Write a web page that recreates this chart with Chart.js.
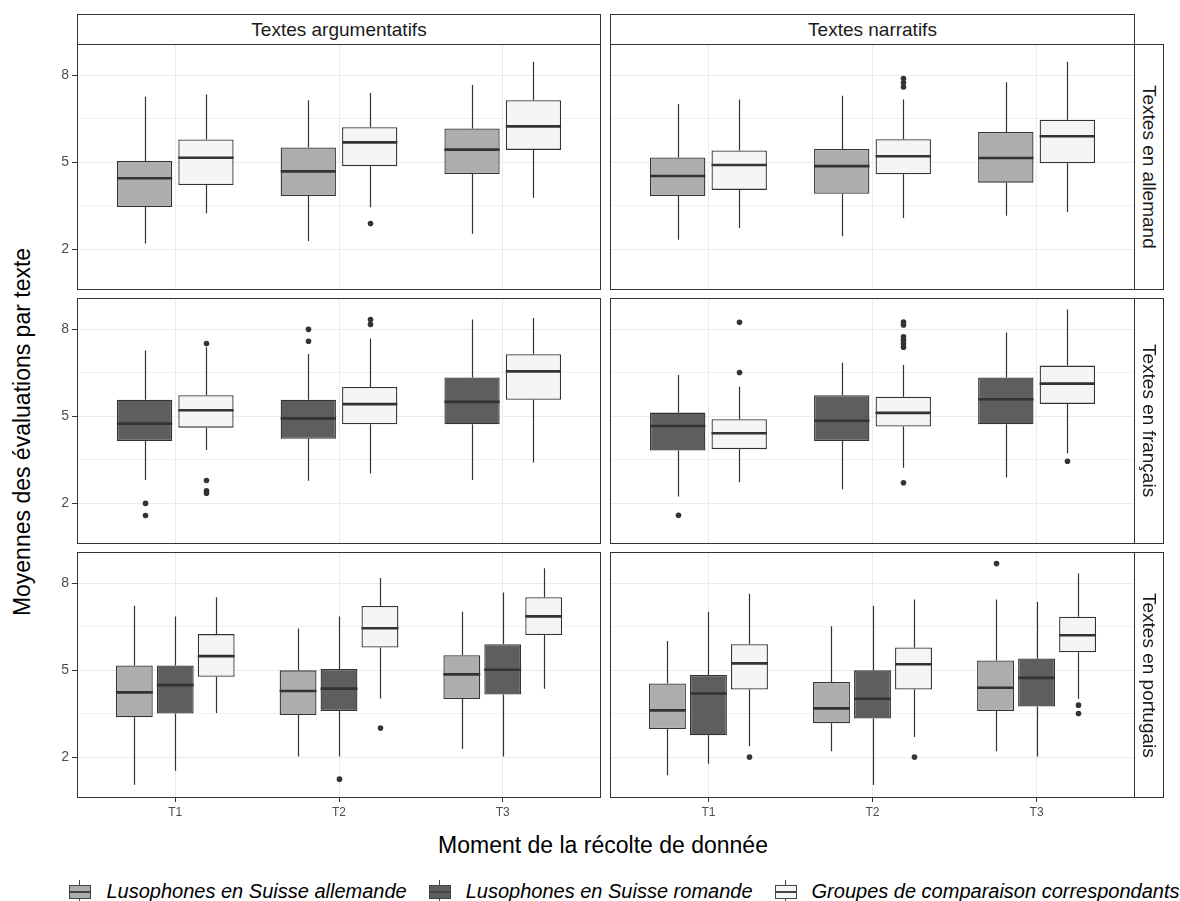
<!DOCTYPE html>
<html lang="fr">
<head>
<meta charset="UTF-8">
<title>Moyennes des évaluations par texte</title>
<script src="https://cdn.jsdelivr.net/npm/chart.js@4.4.1/dist/chart.umd.min.js"></script>
<style>
  body { margin: 0; background: #fff; font-family: "Liberation Sans", Arial, sans-serif; }
  #fig { position: relative; width: 1180px; height: 901px; overflow: hidden; background: #fff; }
  #fig canvas { position: absolute; }
  .strip-top { position: absolute; top: 14px; height: 31px; box-sizing: border-box; border: 1px solid #333;
    background: #fff; color: #1a1a1a; font-size: 19px; line-height: 29px; text-align: center; }
  .strip-right { position: absolute; left: 1134px; width: 30px; height: 246px; box-sizing: border-box;
    border: 1px solid #333; background: #fff; color: #1a1a1a; font-size: 19px; line-height: 28px;
    writing-mode: vertical-rl; text-align: center; }
  .title { position: absolute; font-size: 23px; color: #000; white-space: nowrap; }
  #legend { position: absolute; left: 0; width: 1249px; top: 880px; height: 22px; display: flex;
    justify-content: center; align-items: center; }
  .item { display: flex; align-items: center; margin-right: 22px; }
  .item:last-child { margin-right: 0; }
  .key { position: relative; width: 22px; height: 22px; margin-right: 15px; }
  .key .wh { position: absolute; left: 10px; top: 0; width: 1px; height: 22px; background: #444; }
  .key .bx { position: absolute; left: 0; top: 5px; width: 22px; height: 14px; box-sizing: border-box; border: 1px solid #444; }
  .key .md { position: absolute; left: 0; top: 11px; width: 22px; height: 2px; background: #444; }
  .lab { font-size: 20px; font-style: italic; color: #000; white-space: nowrap; }
</style>
</head>
<body>
<div id="fig">
  <div class="title" style="left:22px;top:432px;transform:translate(-50%,-50%) rotate(-90deg);">Moyennes des évaluations par texte</div>
  <div class="title" style="left:603px;top:845px;transform:translate(-50%,-50%);">Moment de la récolte de donnée</div>
  <div id="legend"></div>
</div>
<script>
const moments = ['T1', 'T2', 'T3'];
const yLabels = [2, 5, 8];
const genres = ['Textes argumentatifs', 'Textes narratifs'];
const langues = ['Textes en allemand', 'Textes en français', 'Textes en portugais'];
const groupes = ['Lusophones en Suisse allemande', 'Lusophones en Suisse romande', 'Groupes de comparaison correspondants'];
const couleurs = ['#adadad', '#5e5e5e', '#f5f5f5'];

// [moustache basse, Q1, médiane, Q3, moustache haute] pour T1, T2, T3
const argAllLusoAll = [[2.20, 3.46, 4.45, 5.05, 7.26], [2.29, 3.84, 4.69, 5.51, 7.14], [2.54, 4.60, 5.44, 6.17, 7.67]];
const argAllComp    = [[3.25, 4.22, 5.16, 5.79, 7.34], [3.45, 4.87, 5.69, 6.21, 7.39], [3.78, 5.43, 6.24, 7.14, 8.47]];
const narAllLusoAll = [[2.33, 3.84, 4.53, 5.17, 7.01], [2.45, 3.92, 4.87, 5.46, 7.30], [3.16, 4.30, 5.15, 6.05, 7.76]];
const narAllComp    = [[2.74, 4.05, 4.91, 5.41, 7.17], [3.08, 4.59, 5.21, 5.80, 7.17], [3.29, 4.97, 5.90, 6.47, 8.47]];
const argFrLusoRom  = [[2.81, 4.15, 4.75, 5.57, 7.27], [2.78, 4.23, 4.93, 5.57, 7.15], [2.81, 4.73, 5.50, 6.34, 8.34]];
const argFrComp     = [[3.84, 4.61, 5.21, 5.73, 7.38], [3.03, 4.73, 5.42, 6.01, 7.68], [3.41, 5.57, 6.55, 7.14, 8.39]];
const narFrLusoRom  = [[2.24, 3.82, 4.67, 5.13, 6.43], [2.49, 4.15, 4.85, 5.73, 6.85], [2.89, 4.73, 5.59, 6.34, 7.89]];
const narFrComp     = [[2.73, 3.87, 4.42, 4.90, 6.02], [3.23, 4.65, 5.12, 5.68, 6.77], [3.73, 5.43, 6.13, 6.75, 8.68]];
const argPtLusoAll  = [[1.06, 3.38, 4.24, 5.17, 7.23], [2.03, 3.46, 4.29, 5.00, 6.44], [2.29, 4.01, 4.86, 5.52, 7.02]];
const argPtLusoRom  = [[1.54, 3.51, 4.49, 5.17, 6.86], [2.03, 3.60, 4.37, 5.05, 6.86], [2.03, 4.17, 5.02, 5.90, 7.68]];
const argPtComp     = [[3.53, 4.78, 5.49, 6.25, 7.52], [4.03, 5.79, 6.45, 7.22, 8.18], [4.37, 6.22, 6.86, 7.52, 8.52]];
const narPtLusoAll  = [[1.38, 2.98, 3.62, 4.55, 6.01], [2.21, 3.18, 3.69, 4.60, 6.52], [2.21, 3.60, 4.40, 5.34, 7.44]];
const narPtLusoRom  = [[1.78, 2.76, 4.20, 4.84, 7.01], [1.05, 3.34, 4.02, 5.00, 7.23], [2.03, 3.75, 4.74, 5.41, 7.36]];
const narPtComp     = [[2.38, 4.34, 5.24, 5.90, 7.64], [2.70, 4.34, 5.21, 5.79, 7.44], [4.02, 5.62, 6.21, 6.85, 8.34]];

// valeurs extrêmes pour T1, T2, T3
const aucun           = [[], [], []];
const argAllCompOut   = [[], [2.89], []];
const narAllCompOut   = [[], [7.60, 7.74, 7.89], []];
const argFrLusoRomOut = [[2.00, 1.58], [8.00, 7.59], []];
const argFrCompOut    = [[7.51, 2.79, 2.43, 2.35], [8.34, 8.17], []];
const narFrLusoRomOut = [[1.59], [], []];
const narFrCompOut    = [[8.24, 6.51], [8.25, 8.15, 7.74, 7.62, 7.50, 7.38, 2.71], [3.45]];
const argPtLusoRomOut = [[], [1.25], []];
const argPtCompOut    = [[], [3.01], []];
const narPtLusoAllOut = [[], [], [8.68]];
const narPtCompOut    = [[2.01], [2.01], [3.80, 3.51]];

// [groupe, stats, extrêmes] par panneau
const panels = [
  { row: 0, col: 0, series: [[0, argAllLusoAll, aucun], [2, argAllComp, argAllCompOut]] },
  { row: 0, col: 1, series: [[0, narAllLusoAll, aucun], [2, narAllComp, narAllCompOut]] },
  { row: 1, col: 0, series: [[1, argFrLusoRom, argFrLusoRomOut], [2, argFrComp, argFrCompOut]] },
  { row: 1, col: 1, series: [[1, narFrLusoRom, narFrLusoRomOut], [2, narFrComp, narFrCompOut]] },
  { row: 2, col: 0, series: [[0, argPtLusoAll, aucun], [1, argPtLusoRom, argPtLusoRomOut], [2, argPtComp, argPtCompOut]] },
  { row: 2, col: 1, series: [[0, narPtLusoAll, narPtLusoAllOut], [1, narPtLusoRom, aucun], [2, narPtComp, narPtCompOut]] }
];

const FONT = '"Liberation Sans", Arial, sans-serif';
const INK = '#333333';
const rowTops = [44, 298, 552];
const colLefts = [77, 610];
const colWidths = [524, 525];
const PANEL_H = 246;
const PAD = 15;
const yGrid = yLabels.concat(yLabels.slice(1).map((v, i) => (v + yLabels[i]) / 2)).sort((a, b) => a - b);

const fig = document.getElementById('fig');

// moustaches, médianes, points extrêmes et cadre du panneau
const boxPlugin = {
  id: 'boxExtras',
  beforeDatasetsDraw(chart) {
    const ctx = chart.ctx, y = chart.scales.y;
    ctx.save();
    ctx.strokeStyle = INK;
    ctx.lineWidth = 1.2;
    chart.data.datasets.forEach((ds, i) => {
      chart.getDatasetMeta(i).data.forEach((el, j) => {
        const s = ds.stats[j];
        const x = Math.round(el.x) + 0.5;
        ctx.beginPath();
        ctx.moveTo(x, y.getPixelForValue(s[0]));
        ctx.lineTo(x, y.getPixelForValue(s[1]));
        ctx.moveTo(x, y.getPixelForValue(s[3]));
        ctx.lineTo(x, y.getPixelForValue(s[4]));
        ctx.stroke();
      });
    });
    ctx.restore();
  },
  afterDatasetsDraw(chart) {
    const ctx = chart.ctx, y = chart.scales.y;
    ctx.save();
    chart.data.datasets.forEach((ds, i) => {
      chart.getDatasetMeta(i).data.forEach((el, j) => {
        const s = ds.stats[j];
        const ym = y.getPixelForValue(s[2]);
        ctx.strokeStyle = INK;
        ctx.lineWidth = 2.6;
        ctx.beginPath();
        ctx.moveTo(el.x - el.width / 2, ym);
        ctx.lineTo(el.x + el.width / 2, ym);
        ctx.stroke();
        ctx.fillStyle = INK;
        ds.outliers[j].forEach(v => {
          ctx.beginPath();
          ctx.arc(Math.round(el.x) + 0.5, y.getPixelForValue(v), 2.8, 0, Math.PI * 2);
          ctx.fill();
        });
      });
    });
    ctx.restore();
  },
  afterDraw(chart) {
    const a = chart.chartArea, ctx = chart.ctx;
    ctx.save();
    ctx.strokeStyle = INK;
    ctx.lineWidth = 1;
    ctx.strokeRect(a.left + 0.5, a.top + 0.5, a.right - a.left - 1, a.bottom - a.top - 1);
    ctx.restore();
  }
};

function makePanel(p) {
  const isLeft = p.col === 0;
  const isBottom = p.row === 2;
  const axisW = isLeft ? colLefts[0] : 0;
  const canvas = document.createElement('canvas');
  canvas.width = colWidths[p.col] + axisW;
  canvas.height = PAD + PANEL_H + (isBottom ? 30 : PAD);
  canvas.style.left = (colLefts[p.col] - axisW) + 'px';
  canvas.style.top = (rowTops[p.row] - PAD) + 'px';
  fig.appendChild(canvas);

  new Chart(canvas, {
    type: 'bar',
    data: {
      datasets: p.series.map(([g, stats, out]) => ({
        label: groupes[g],
        data: stats.map((s, i) => ({ x: i + 1, y: [s[1], s[3]] })),
        stats: stats,
        outliers: out,
        backgroundColor: couleurs[g],
        borderColor: INK,
        borderWidth: 1.3,
        borderSkipped: false,
        categoryPercentage: 0.75,
        barPercentage: 0.9
      }))
    },
    options: {
      responsive: false,
      animation: false,
      devicePixelRatio: 1,
      layout: { padding: { top: PAD, bottom: isBottom ? 0 : PAD, left: 0, right: 0 } },
      plugins: { legend: { display: false }, tooltip: { enabled: false } },
      scales: {
        x: {
          type: 'linear', min: 0.4, max: 3.6, offset: false,
          afterBuildTicks: s => { s.ticks = moments.map((m, i) => ({ value: i + 1 })); },
          afterFit: s => { s.height = isBottom ? 30 : 0; },
          border: { display: false },
          grid: { offset: false, color: '#ebebeb', lineWidth: 1, drawTicks: isBottom, tickLength: 4, tickColor: INK },
          ticks: {
            display: isBottom, autoSkip: false, maxRotation: 0, padding: 3,
            color: '#4d4d4d', font: { family: FONT, size: 12 },
            callback: v => moments[v - 1]
          }
        },
        y: {
          min: 0.6, max: 9.08,
          afterBuildTicks: s => { s.ticks = yGrid.map(v => ({ value: v })); },
          afterFit: s => { s.width = axisW; },
          border: { display: false },
          grid: {
            color: c => yLabels.includes(c.tick.value) ? '#ebebeb' : '#f1f1f1',
            lineWidth: 1, drawTicks: isLeft, tickLength: 5,
            tickColor: c => yLabels.includes(c.tick.value) ? INK : 'rgba(0,0,0,0)'
          },
          ticks: {
            display: isLeft, autoSkip: false, padding: 3,
            color: '#4d4d4d', font: { family: FONT, size: 14 },
            callback: v => yLabels.includes(v) ? String(v) : ''
          }
        }
      }
    },
    plugins: [boxPlugin]
  });
}

panels.forEach(makePanel);

// bandeaux des facettes
genres.forEach((t, c) => {
  const d = document.createElement('div');
  d.className = 'strip-top';
  d.style.left = colLefts[c] + 'px';
  d.style.width = colWidths[c] + 'px';
  d.textContent = t;
  fig.appendChild(d);
});
langues.forEach((t, r) => {
  const d = document.createElement('div');
  d.className = 'strip-right';
  d.style.top = rowTops[r] + 'px';
  d.textContent = t;
  fig.appendChild(d);
});

// légende
const legend = document.getElementById('legend');
groupes.forEach((g, i) => {
  const item = document.createElement('div');
  item.className = 'item';
  item.innerHTML = '<span class="key"><i class="wh"></i><i class="bx" style="background:' + couleurs[i] +
    '"></i><i class="md"></i></span><span class="lab"></span>';
  item.querySelector('.lab').textContent = g;
  legend.appendChild(item);
});
</script>
</body>
</html>
